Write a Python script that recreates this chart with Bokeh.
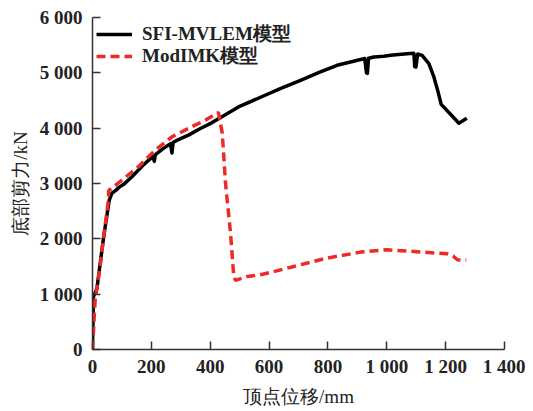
from bokeh.plotting import figure
from bokeh.models import Range1d, FixedTicker, Legend, LegendItem
from bokeh.embed import file_html
from bokeh.resources import INLINE

# SFI-MVLEM model (black solid)
sfi_x = [0, 3, 15, 37, 57, 66, 80, 90, 105, 134, 170, 205, 210, 213, 216, 240, 265, 270, 274, 290,
         326, 365, 405, 450, 496, 571, 640, 707, 770, 831, 880, 925, 931, 934, 938, 956, 990, 1013,
         1040, 1069, 1092, 1095, 1099, 1105, 1120, 1143, 1160, 1172, 1185, 1215, 1245, 1272]
sfi_y = [0, 950, 1100, 2000, 2700, 2824, 2880, 2930, 2980, 3123, 3320, 3490, 3400, 3510, 3530, 3630, 3720, 3550, 3740, 3790,
         3874, 3990, 4096, 4240, 4384, 4559, 4720, 4865, 5010, 5136, 5200, 5260, 5000, 4990, 5265, 5286, 5300, 5316,
         5330, 5346, 5352, 5110, 5105, 5340, 5316, 5166, 4925, 4700, 4430, 4260, 4090, 4180]

# ModIMK model (red dashed)
mod_x = [0, 9, 26, 37, 54, 55, 100, 156, 213, 270, 326, 383, 428, 441, 452, 469, 480, 486, 526, 571,
         605, 684, 797, 911, 1001, 1092, 1205, 1225, 1240, 1270]
mod_y = [0, 900, 1500, 2000, 2700, 2871, 3063, 3303, 3604, 3844, 3995, 4145, 4285, 3905, 3004, 2103, 1321, 1250, 1321, 1351,
         1393, 1501, 1652, 1760, 1802, 1771, 1730, 1690, 1622, 1615]

x_ticks = [0, 200, 400, 600, 800, 1000, 1200, 1400]
x_tick_labels = ["0", "200", "400", "600", "800", "1 000", "1 200", "1 400"]
y_ticks = [0, 1000, 2000, 3000, 4000, 5000, 6000]
y_tick_labels = ["0", "1 000", "2 000", "3 000", "4 000", "5 000", "6 000"]

series_names = ["SFI-MVLEM模型", "ModIMK模型"]
x_title = "顶点位移/mm"
y_title = "底部剪力/kN"

p = figure(width=525, height=409, output_backend="svg", toolbar_location=None,
           x_range=Range1d(0, 1400), y_range=Range1d(0, 6000),
           min_border_left=92, min_border_top=17, min_border_right=21, min_border_bottom=59)
p.outline_line_color = None
p.xgrid.visible = False
p.ygrid.visible = False
p.background_fill_color = "white"

r1 = p.line(sfi_x, sfi_y, line_color="black", line_width=3.5, line_join="round")
r2 = p.line(mod_x, mod_y, line_color="#ee2a24", line_width=3.5, line_dash="9 5")

font = "Liberation Serif"
for ax, ticks, labels in ((p.xaxis[0], x_ticks, x_tick_labels), (p.yaxis[0], y_ticks, y_tick_labels)):
    ax.ticker = FixedTicker(ticks=ticks)
    ax.major_label_overrides = {t: l for t, l in zip(ticks, labels)}
    ax.major_tick_in = 8
    ax.major_tick_out = 0
    ax.minor_tick_line_color = None
    ax.axis_line_color = "#333333"
    ax.axis_line_width = 1.5
    ax.major_tick_line_color = "#333333"
    ax.major_tick_line_width = 1.5
    ax.major_label_text_font = font
    ax.major_label_text_font_size = "19px"
    ax.major_label_text_font_style = "bold"
    ax.major_label_text_color = "#222222"
    ax.axis_label_text_font = font
    ax.axis_label_text_font_size = "19px"
    ax.axis_label_text_font_style = "normal"
    ax.axis_label_text_color = "#222222"

p.xaxis[0].axis_label = x_title
p.yaxis[0].axis_label = y_title
p.xaxis[0].major_label_standoff = 6
p.yaxis[0].major_label_standoff = 10
p.xaxis[0].axis_label_standoff = 6
p.yaxis[0].axis_label_standoff = 6

legend_style = dict(padding=5, spacing=0, label_height=20, glyph_height=20, glyph_width=36,
                    label_standoff=10, border_line_color=None, background_fill_alpha=0,
                    label_text_font=font, label_text_font_size="19px", label_text_font_style="bold",
                    label_text_color="#222222")
legend1 = Legend(items=[LegendItem(label=series_names[0], renderers=[r1])],
                 location="top_left", margin=4, **legend_style)
legend2 = Legend(items=[LegendItem(label=series_names[1], renderers=[r2])],
                 location=(4, 280), margin=0, **legend_style)
p.add_layout(legend1)
p.add_layout(legend2)

open("out.html", "w").write(file_html(p, INLINE))
